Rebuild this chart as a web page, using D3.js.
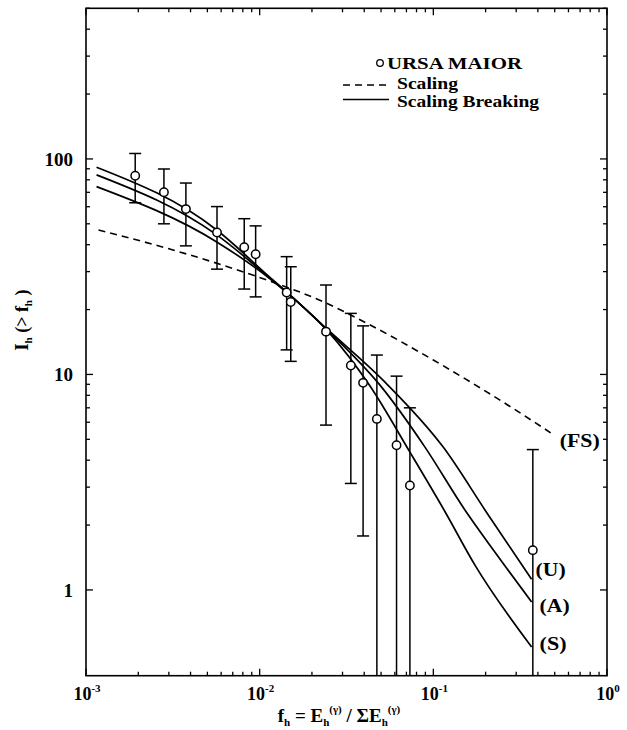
<html>
<head>
<script src="https://d3js.org/d3.v7.min.js"></script>
<style>
  body { margin: 0; background: #fff; }
  text { font-family: "Liberation Serif", "DejaVu Serif", serif; font-weight: bold; fill: #000; }
</style>
</head>
<body>
<svg id="vis"></svg>
<script>
// ---- data ----
// URSA MAIOR points
const fh = [1.92e-3, 2.81e-3, 3.76e-3, 5.68e-3, 8.15e-3, 9.48e-3, 1.43e-2, 1.51e-2, 2.41e-2, 3.35e-2, 3.94e-2, 4.73e-2, 6.14e-2, 7.33e-2, 0.374];
const Ih = [83.6, 70.0, 58.5, 45.6, 38.9, 36.1, 24.0, 21.7, 15.8, 11.0, 9.14, 6.22, 4.69, 3.05, 1.53];
const errHi = [106, 89.8, 77.3, 60.1, 52.8, 48.9, 35.2, 31.6, 26.0, 19.2, 16.8, 12.3, 9.82, 7.0, 4.48];
const errLo = [62.6, 50.0, 39.5, 30.8, 24.9, 22.9, 13.0, 11.5, 5.82, 3.12, 1.78, null, null, null, null]; // null = below the axis

// scaling (FS), dashed
const fsX = [1.18e-3, 3.17e-3, 1.10e-2, 2.22e-2, 4.13e-2, 0.1, 0.242, 0.474];
const fsY = [46.8, 37.8, 27.4, 22.1, 17.3, 11.66, 7.6, 5.36];

// scaling breaking curves (S), (A), (U)
const sX = [1.15e-3, 5.66e-3, 1.146e-2, 1.49e-2, 2.43e-2, 4.32e-2, 7.33e-2, 0.117, 0.174, 0.368];
const sY = [91.5, 46.8, 28.2, 23.4, 16.1, 8.83, 4.36, 2.30, 1.30, 0.544];
const aX = [1.15e-3, 5.66e-3, 1.146e-2, 1.49e-2, 2.43e-2, 4.93e-2, 8.95e-2, 0.152, 0.226, 0.368];
const aY = [84.3, 44.4, 28.0, 23.4, 16.2, 8.92, 4.60, 2.35, 1.50, 0.88];
const uX = [1.15e-3, 5.66e-3, 1.146e-2, 1.49e-2, 2.43e-2, 5.27e-2, 0.114, 0.204, 0.368];
const uY = [74.4, 41.2, 27.8, 23.4, 16.3, 9.21, 4.60, 2.27, 1.12];

const xMajor = [1e-3, 1e-2, 1e-1, 1];
const xMajorExp = ['-3', '-2', '-1', '0'];
const yMajor = [1, 10, 100];
const yMajorLabels = ['1', '10', '100'];

// ---- layout ----
const width = 627, height = 730;
const plotL = 86, plotR = 607, plotT = 8.3, plotB = 675.7;

let svg = d3.select('#vis').attr('width', width).attr('height', height);

let x = d3.scaleLog().domain([1e-3, 1]).range([plotL, plotR]);
let y = d3.scaleLog().domain([0.4, 500]).range([plotB, plotT]);

// minor ticks
let xMinor = x.ticks().filter(v => xMajor.indexOf(v) < 0);
let yMinor = y.ticks().filter(v => v >= 1 && yMajor.indexOf(v) < 0);

function drawAxes() {
  let g = svg.append('g').attr('stroke', '#000').attr('stroke-width', 1.3);
  g.append('rect')
    .attr('x', plotL).attr('y', plotT)
    .attr('width', plotR - plotL).attr('height', plotB - plotT)
    .attr('fill', 'none').attr('stroke-width', 1.6);

  xMajor.forEach(v => {
    g.append('line').attr('x1', x(v)).attr('x2', x(v)).attr('y1', plotB).attr('y2', plotB - 7);
    g.append('line').attr('x1', x(v)).attr('x2', x(v)).attr('y1', plotT).attr('y2', plotT + 7);
  });
  xMinor.forEach(v => {
    g.append('line').attr('x1', x(v)).attr('x2', x(v)).attr('y1', plotB).attr('y2', plotB - 4);
    g.append('line').attr('x1', x(v)).attr('x2', x(v)).attr('y1', plotT).attr('y2', plotT + 4);
  });
  yMajor.forEach(v => {
    g.append('line').attr('x1', plotL).attr('x2', plotL + 7).attr('y1', y(v)).attr('y2', y(v));
    g.append('line').attr('x1', plotR).attr('x2', plotR - 7).attr('y1', y(v)).attr('y2', y(v));
  });
  yMinor.forEach(v => {
    g.append('line').attr('x1', plotL).attr('x2', plotL + 4).attr('y1', y(v)).attr('y2', y(v));
    g.append('line').attr('x1', plotR).attr('x2', plotR - 4).attr('y1', y(v)).attr('y2', y(v));
  });

  // tick labels
  xMajor.forEach((v, i) => {
    let t = svg.append('text').attr('x', x(v) + 1).attr('y', plotB + 24)
      .attr('text-anchor', 'middle').style('font-size', '18px');
    t.append('tspan').text('10');
    t.append('tspan').attr('dy', -8).style('font-size', '11px').text(xMajorExp[i]);
  });
  yMajor.forEach((v, i) => {
    svg.append('text').attr('x', 73).attr('y', y(v) + 7)
      .attr('text-anchor', 'end').style('font-size', '19px').text(yMajorLabels[i]);
  });

  // axis titles
  let xt = svg.append('text').attr('x', 339).attr('y', 722)
    .attr('text-anchor', 'middle').style('font-size', '19px');
  xt.append('tspan').text('f');
  xt.append('tspan').attr('dy', 4).style('font-size', '11px').text('h');
  xt.append('tspan').attr('dy', -4).text(' = E');
  xt.append('tspan').attr('dy', 4).style('font-size', '11px').text('h');
  xt.append('tspan').attr('dy', -13).style('font-size', '11px').text('(γ)');
  xt.append('tspan').attr('dy', 9).text(' / ΣE');
  xt.append('tspan').attr('dy', 4).style('font-size', '11px').text('h');
  xt.append('tspan').attr('dy', -13).style('font-size', '11px').text('(γ)');

  let yt = svg.append('text').attr('transform', 'translate(28,320) rotate(-90)')
    .attr('text-anchor', 'middle').style('font-size', '18px');
  yt.append('tspan').text('I');
  yt.append('tspan').attr('dy', 4).style('font-size', '11px').text('h');
  yt.append('tspan').attr('dy', -4).text('  (> f');
  yt.append('tspan').attr('dy', 4).style('font-size', '11px').text('h');
  yt.append('tspan').attr('dy', -4).text(' )');
}

let line = d3.line()
  .x(d => x(d[0]))
  .y(d => y(d[1]))
  .curve(d3.curveMonotoneX);

function drawCurves() {
  svg.append('path')
    .attr('d', line(d3.zip(fsX, fsY)))
    .attr('fill', 'none').attr('stroke', '#000')
    .attr('stroke-width', 1.6).attr('stroke-dasharray', '7,5');

  [[sX, sY], [aX, aY], [uX, uY]].forEach(c => {
    svg.append('path')
      .attr('d', line(d3.zip(c[0], c[1])))
      .attr('fill', 'none').attr('stroke', '#000').attr('stroke-width', 1.7);
  });

  // curve labels next to the end of each curve
  let labels = [
    { t: '(FS)', px: fsX[fsX.length - 1], py: fsY[fsY.length - 1], dx: 9, dy: 14, w: 40 },
    { t: '(U)', px: uX[uX.length - 1], py: uY[uY.length - 1], dx: 4, dy: -3, w: 30 },
    { t: '(A)', px: aX[aX.length - 1], py: aY[aY.length - 1], dx: 8, dy: 10, w: 30 },
    { t: '(S)', px: sX[sX.length - 1], py: sY[sY.length - 1], dx: 8, dy: 3, w: 27 }
  ];
  labels.forEach(l => {
    svg.append('text').attr('x', x(l.px) + l.dx).attr('y', y(l.py) + l.dy)
      .attr('textLength', l.w).attr('lengthAdjust', 'spacingAndGlyphs')
      .style('font-size', '19px').text(l.t);
  });
}

function drawPoints() {
  let g = svg.append('g').attr('stroke', '#000').attr('stroke-width', 1.5);
  fh.forEach((f, i) => {
    let cx = x(f);
    let yTop = y(errHi[i]);
    let yBot = errLo[i] === null ? plotB : y(errLo[i]);
    g.append('line').attr('x1', cx).attr('x2', cx).attr('y1', yTop).attr('y2', yBot);
    g.append('line').attr('x1', cx - 6).attr('x2', cx + 6).attr('y1', yTop).attr('y2', yTop);
    if (errLo[i] !== null) {
      g.append('line').attr('x1', cx - 6).attr('x2', cx + 6).attr('y1', yBot).attr('y2', yBot);
    }
  });
  g.selectAll('circle').data(d3.zip(fh, Ih)).enter().append('circle')
    .attr('cx', d => x(d[0]))
    .attr('cy', d => y(d[1]))
    .attr('r', 4.2)
    .attr('fill', '#fff');
}

function drawLegend() {
  svg.append('circle').attr('cx', 380).attr('cy', 63).attr('r', 3.3)
    .attr('fill', '#fff').attr('stroke', '#000').attr('stroke-width', 1.3);
  svg.append('text').attr('x', 387).attr('y', 68.5).style('font-size', '16.5px')
    .attr('textLength', 135).attr('lengthAdjust', 'spacingAndGlyphs').text('URSA MAIOR');
  svg.append('line').attr('x1', 343).attr('x2', 389).attr('y1', 85).attr('y2', 85)
    .attr('stroke', '#000').attr('stroke-width', 1.5).attr('stroke-dasharray', '7,5');
  svg.append('text').attr('x', 397).attr('y', 88.5).style('font-size', '16px')
    .attr('textLength', 61).attr('lengthAdjust', 'spacingAndGlyphs').text('Scaling');
  svg.append('line').attr('x1', 343).attr('x2', 389).attr('y1', 99.5).attr('y2', 99.5)
    .attr('stroke', '#000').attr('stroke-width', 1.5);
  svg.append('text').attr('x', 397).attr('y', 106.5).style('font-size', '16px')
    .attr('textLength', 142).attr('lengthAdjust', 'spacingAndGlyphs').text('Scaling Breaking');
}

drawAxes();
drawCurves();
drawPoints();
drawLegend();
</script>
</body>
</html>
